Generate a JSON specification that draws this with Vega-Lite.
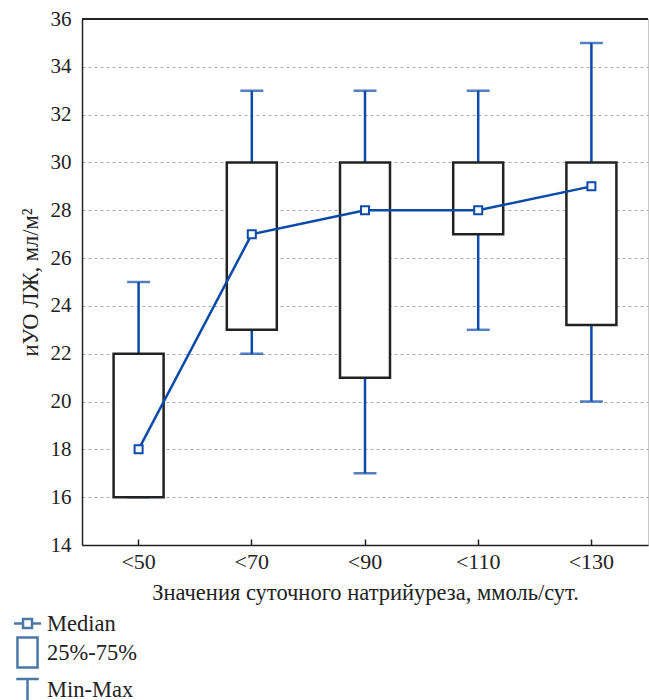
{
 "$schema": "https://vega.github.io/schema/vega-lite/v6.json",
 "width": 566,
 "height": 526,
 "autosize": {"type": "none"},
 "padding": {"left": 82, "top": 19, "right": 1, "bottom": 155},
 "background": "white",
 "config": {
  "view": {"stroke": "#c8c8c8", "strokeWidth": 1},
  "axis": {"labelFont": "Liberation Serif", "labelFontSize": 21, "labelColor": "#222", "titleFont": "Liberation Serif", "titleFontSize": 22.5, "titleFontWeight": "normal", "titleColor": "#222"},
  "legend": {"labelFont": "Liberation Serif", "labelFontSize": 22.5, "labelColor": "#222"}
 },
 "data": {"values": [
  {"cat": "<50", "min": 16, "q1": 16, "median": 18, "q3": 22, "max": 25},
  {"cat": "<70", "min": 22, "q1": 23, "median": 27, "q3": 30, "max": 33},
  {"cat": "<90", "min": 17, "q1": 21, "median": 28, "q3": 30, "max": 33},
  {"cat": "<110", "min": 23, "q1": 27, "median": 28, "q3": 30, "max": 33},
  {"cat": "<130", "min": 20, "q1": 23.2, "median": 29, "q3": 30, "max": 35}
 ]},
 "layer": [
  {
   "mark": {"type": "rule", "color": "#0b4aa8", "strokeWidth": 2.5},
   "encoding": {
    "x": {"field": "cat", "type": "nominal", "sort": null, "scale": {"type": "band", "paddingInner": 0, "paddingOuter": 0},
          "title": "Значения суточного натрийуреза, ммоль/сут.",
          "axis": {"labelAngle": 0, "labelFontSize": 22, "domainColor": "#222", "domainWidth": 1.5, "tickColor": "#222", "tickSize": -6, "tickWidth": 1.5, "labelPadding": 12, "titlePadding": 9, "grid": false}},
    "y": {"field": "min", "type": "quantitative", "scale": {"domain": [14, 36], "nice": false, "zero": false},
          "title": "иУО ЛЖ, мл/м²",
          "axis": {"values": [14, 16, 18, 20, 22, 24, 26, 28, 30, 32, 34, 36], "grid": true, "gridDash": [3, 3], "gridColor": "#aaa", "gridWidth": 1, "ticks": false, "domainColor": "#222", "domainWidth": 1.5, "labelPadding": 11, "titlePadding": 8}},
    "y2": {"field": "max"}
   }
  },
  {
   "mark": {"type": "tick", "color": "#0b4aa8", "thickness": 2.5, "size": 23},
   "encoding": {
    "x": {"field": "cat", "type": "nominal", "sort": null},
    "y": {"field": "max", "type": "quantitative"}
   }
  },
  {
   "mark": {"type": "tick", "color": "#0b4aa8", "thickness": 2.5, "size": 23},
   "encoding": {
    "x": {"field": "cat", "type": "nominal", "sort": null},
    "y": {"field": "min", "type": "quantitative"}
   }
  },
  {
   "mark": {"type": "bar", "fill": "white", "stroke": "#222", "strokeWidth": 2.5, "size": 50},
   "encoding": {
    "x": {"field": "cat", "type": "nominal", "sort": null},
    "y": {"field": "q1", "type": "quantitative"},
    "y2": {"field": "q3"}
   }
  },
  {
   "mark": {"type": "line", "color": "#0b4aa8", "strokeWidth": 2.5},
   "encoding": {
    "x": {"field": "cat", "type": "nominal", "sort": null},
    "y": {"field": "median", "type": "quantitative"}
   }
  },
  {
   "mark": {"type": "point", "shape": "square", "filled": false, "fill": "white", "fillOpacity": 1, "stroke": "#0b4aa8", "strokeWidth": 2, "size": 64, "opacity": 1},
   "encoding": {
    "x": {"field": "cat", "type": "nominal", "sort": null},
    "y": {"field": "median", "type": "quantitative"}
   }
  },
  {
   "mark": {"type": "rule", "color": "#222", "strokeWidth": 1.5},
   "encoding": {"y": {"datum": 36}}
  },
  {
   "mark": {"type": "point", "filled": false, "opacity": 0},
   "encoding": {
    "x": {"field": "cat", "type": "nominal", "sort": null},
    "y": {"field": "median", "type": "quantitative"},
    "shape": {"datum": "Median", "type": "nominal",
     "scale": {"domain": ["Median", "25%-75%", "Min-Max"], "range": ["M-0.9,0H-0.3M0.3,0H0.9M-0.3,-0.3H0.3V0.3H-0.3Z", "M-0.67,-1H0.67V1H-0.67Z", "M-0.75,-0.7H0.75M0,-0.7V1.2"]},
     "legend": {"title": null, "orient": "none", "legendX": -71, "legendY": 588, "direction": "vertical", "symbolSize": 900, "symbolStrokeWidth": 2.5, "labelOffset": 3, "rowPadding": -3, "padding": 0, "symbolOpacity": 1,
      "encode": {"symbols": {"update": {"stroke": {"signal": "datum.value === '25%-75%' ? '#222' : '#0b4aa8'"}, "strokeWidth": {"value": 2.5}, "fill": {"value": "transparent"}, "opacity": {"value": 1}}}}}
    }
   }
  }
 ]
}
